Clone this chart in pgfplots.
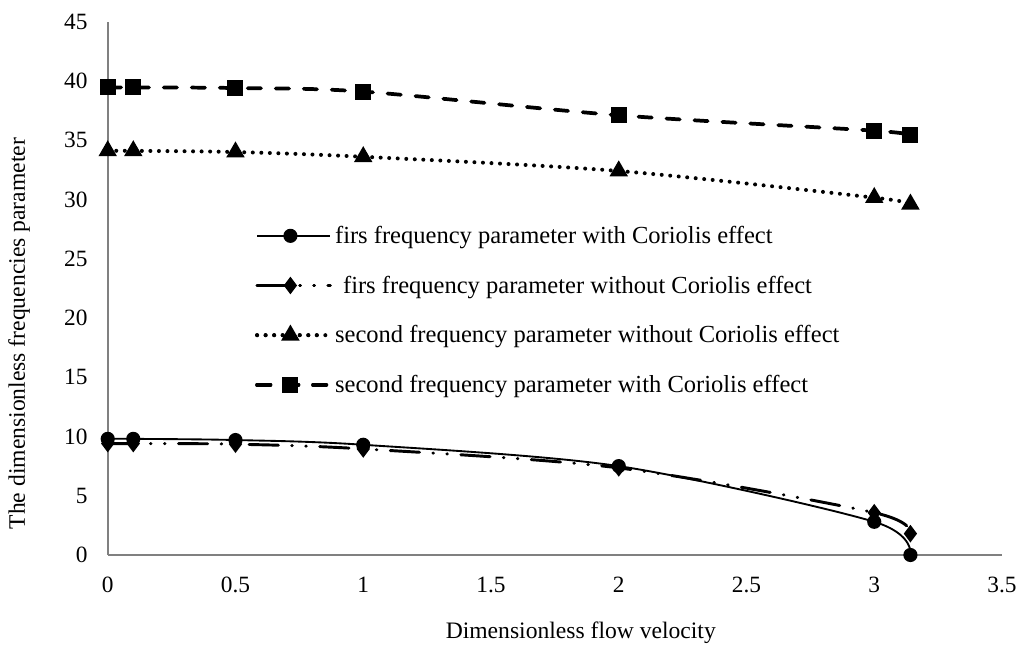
\documentclass[border=0pt]{standalone}
\usepackage{pgfplots}
\pgfplotsset{compat=1.18}
\usepackage{fontspec}
\setmainfont{Liberation Serif}
\begin{document}
\begin{tikzpicture}
\path[use as bounding box] (-80.8pt,-68.25pt) rectangle (682.7pt,416.25pt);
\begin{axis}[
  scale only axis, width=670.7pt, height=400pt,
  xmin=0, xmax=3.5, ymin=0, ymax=45,
  xtick={0,0.5,1,1.5,2,2.5,3,3.5},
  ytick={0,5,10,15,20,25,30,35,40,45},
  axis x line=bottom, axis y line=left,
  axis line style={-, draw=black!50, line width=1.2pt},
  major tick length=0pt,
  /pgf/number format/assume math mode=true,
  tick label style={font=\fontsize{17.5}{20}\selectfont, inner sep=0pt},
  x tick label style={yshift=-16.5pt},
  y tick label style={xshift=-15pt},
  xlabel={Dimensionless flow velocity},
  ylabel={The dimensionless frequencies parameter},
  every axis x label/.style={at={(axis description cs:0.529,-0.146)}, anchor=center, font=\fontsize{17.7}{20}\selectfont},
  every axis y label/.style={at={(axis description cs:-0.0992,0.415)}, anchor=center, rotate=90, font=\fontsize{17.7}{20}\selectfont},
  legend style={at={(axis description cs:0.16,0.627)}, anchor=north west, draw=none, fill=none,
    font=\fontsize{18.4}{21}\selectfont, row sep=18.8pt, cells={anchor=west}},
  legend image code/.code={\path (0pt,0pt) -- (55pt,0pt);\draw[mark repeat=2,mark phase=2] plot coordinates {(0pt,0pt) (25pt,0pt) (50pt,0pt)};},
  clip=false,
]
\addplot[black, line width=1.4pt, smooth, mark=*, mark size=4.6pt, mark options={solid}]
  coordinates {(0,9.8)(0.1,9.8)(0.5,9.7)(1,9.3)(2,7.5)(3,2.8)(3.1416,0)};
\addlegendentry{firs frequency parameter with Coriolis effect}
\addplot[black, line width=2.2pt, smooth, line cap=round, dash pattern=on 22pt off 10pt on 0.5pt off 10pt on 0.5pt off 10pt, mark=diamond*, mark size=4.8pt, mark options={solid}]
  coordinates {(0,9.4)(0.1,9.4)(0.5,9.35)(1,8.95)(2,7.35)(3,3.57)(3.1416,1.8)};
\addlegendentry{\hspace{6pt}firs frequency parameter without Coriolis effect}
\addplot[black, line width=3pt, smooth, line cap=round, dash pattern=on 0pt off 6.4pt, mark=triangle*, mark size=5pt, mark options={solid}]
  coordinates {(0,34.1)(0.1,34.1)(0.5,34.0)(1,33.6)(2,32.4)(3,30.15)(3.1416,29.6)};
\addlegendentry{second frequency parameter without Coriolis effect}
\addplot[black, line width=2.8pt, smooth, line cap=round, dash pattern=on 10pt off 11pt, mark=square*, mark size=4.6pt, mark options={solid}]
  coordinates {(0,39.45)(0.1,39.45)(0.5,39.4)(1,39.1)(2,37.1)(3,35.8)(3.1416,35.4)};
\addlegendentry{second frequency parameter with Coriolis effect}
\end{axis}
\end{tikzpicture}
\end{document}
